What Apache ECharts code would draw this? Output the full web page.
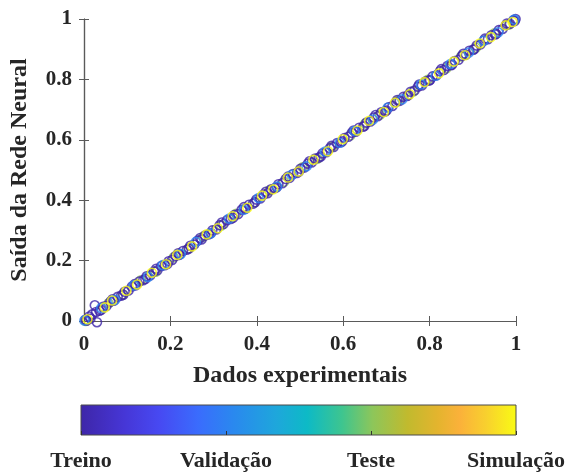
<!DOCTYPE html>
<html>
<head>
    <meta charset="utf-8">
    <title>Saída da Rede Neural</title>
    <script src="https://cdn.jsdelivr.net/npm/echarts@6/dist/echarts.min.js"></script>
</head>
<body style="margin:0">
    <div id="main" style="width: 572px;height:472px;"></div>
    <script type="text/javascript">
        // grupos da barra de cores
        var grupos = ['Treino', 'Validação', 'Teste', 'Simulação'];
        var coresGrupos = ['#3e26a8', '#2c84f0', '#90c454', '#f9fb14'];

        // [dados experimentais, saída da rede]
        var treino = [
            [0.003, 0.004], [0.006, 0.001], [0.025, 0.052], [0.030, -0.004], [0.012, 0.015], [0.019, 0.022],
            [0.028, 0.030], [0.036, 0.034], [0.044, 0.047], [0.052, 0.050], [0.061, 0.064], [0.069, 0.067],
            [0.078, 0.080], [0.086, 0.084], [0.094, 0.097], [0.103, 0.101], [0.111, 0.114], [0.120, 0.118],
            [0.128, 0.131], [0.137, 0.135], [0.145, 0.148], [0.153, 0.151], [0.162, 0.164], [0.170, 0.168],
            [0.179, 0.182], [0.187, 0.185], [0.196, 0.198], [0.204, 0.202], [0.212, 0.215], [0.221, 0.219],
            [0.229, 0.232], [0.238, 0.236], [0.246, 0.249], [0.255, 0.253], [0.263, 0.266], [0.272, 0.270],
            [0.280, 0.283], [0.289, 0.287], [0.297, 0.300], [0.306, 0.303], [0.314, 0.317], [0.323, 0.321],
            [0.331, 0.334], [0.340, 0.338], [0.348, 0.351], [0.357, 0.354], [0.365, 0.368], [0.374, 0.372],
            [0.382, 0.385], [0.391, 0.388], [0.399, 0.402], [0.408, 0.406], [0.416, 0.419], [0.425, 0.423],
            [0.433, 0.436], [0.442, 0.440], [0.450, 0.453], [0.459, 0.456], [0.467, 0.470], [0.476, 0.474],
            [0.484, 0.487], [0.493, 0.490], [0.501, 0.504], [0.510, 0.508], [0.518, 0.521], [0.527, 0.525],
            [0.535, 0.538], [0.544, 0.541], [0.552, 0.555], [0.561, 0.559], [0.569, 0.572], [0.578, 0.576],
            [0.586, 0.589], [0.595, 0.592], [0.603, 0.606], [0.612, 0.610], [0.620, 0.623], [0.629, 0.627],
            [0.637, 0.640], [0.646, 0.643], [0.654, 0.657], [0.663, 0.661], [0.671, 0.674], [0.680, 0.678],
            [0.688, 0.691], [0.697, 0.694], [0.705, 0.708], [0.714, 0.712], [0.722, 0.725], [0.731, 0.729],
            [0.739, 0.742], [0.748, 0.745], [0.756, 0.759], [0.765, 0.763], [0.773, 0.776], [0.782, 0.780],
            [0.790, 0.793], [0.799, 0.796], [0.807, 0.810], [0.816, 0.814], [0.824, 0.827], [0.833, 0.831],
            [0.841, 0.844], [0.850, 0.847], [0.858, 0.861], [0.867, 0.865], [0.875, 0.878], [0.884, 0.882],
            [0.892, 0.895], [0.901, 0.898], [0.909, 0.912], [0.918, 0.916], [0.926, 0.929], [0.935, 0.933],
            [0.943, 0.946], [0.952, 0.949], [0.960, 0.963], [0.969, 0.967], [0.977, 0.980], [0.986, 0.984],
            [0.994, 0.996], [0.999, 1.000],
            [0.015, 0.008], [0.040, 0.037], [0.066, 0.072], [0.091, 0.087], [0.117, 0.122], [0.142, 0.139],
            [0.167, 0.173], [0.193, 0.189], [0.218, 0.224], [0.243, 0.240], [0.269, 0.275], [0.294, 0.291],
            [0.319, 0.326], [0.345, 0.342], [0.370, 0.377], [0.396, 0.393], [0.421, 0.428], [0.446, 0.443],
            [0.472, 0.478], [0.497, 0.494], [0.522, 0.529], [0.548, 0.545], [0.573, 0.580], [0.598, 0.595],
            [0.624, 0.631], [0.649, 0.646], [0.675, 0.682], [0.700, 0.697], [0.725, 0.732], [0.751, 0.748],
            [0.776, 0.783], [0.801, 0.798], [0.827, 0.834], [0.852, 0.849], [0.878, 0.885], [0.903, 0.900],
            [0.928, 0.935], [0.954, 0.951], [0.979, 0.985], [0.997, 0.993]
        ];
        var validacao = [
            [0.001, 0.002], [0.040, 0.043], [0.072, 0.070], [0.115, 0.118], [0.148, 0.146], [0.182, 0.185],
            [0.224, 0.222], [0.259, 0.262], [0.293, 0.290], [0.336, 0.339], [0.370, 0.368], [0.404, 0.407],
            [0.447, 0.445], [0.481, 0.484], [0.515, 0.512], [0.558, 0.561], [0.592, 0.590], [0.626, 0.629],
            [0.669, 0.667], [0.703, 0.706], [0.737, 0.734], [0.780, 0.783], [0.814, 0.812], [0.848, 0.851],
            [0.891, 0.889], [0.925, 0.928], [0.959, 0.956], [0.996, 0.998]
        ];
        var teste = [
            [0.004, 0.000], [0.057, 0.059], [0.090, 0.088], [0.132, 0.135], [0.166, 0.163], [0.208, 0.211],
            [0.242, 0.240], [0.276, 0.279], [0.318, 0.316], [0.352, 0.355], [0.395, 0.393], [0.429, 0.432],
            [0.463, 0.461], [0.506, 0.509], [0.540, 0.537], [0.574, 0.577], [0.617, 0.615], [0.651, 0.654],
            [0.685, 0.683], [0.728, 0.731], [0.762, 0.760], [0.796, 0.799], [0.839, 0.837], [0.873, 0.876],
            [0.907, 0.905], [0.950, 0.953], [0.984, 0.982]
        ];
        var simulacao = [
            [0.008, 0.006], [0.048, 0.045], [0.065, 0.068], [0.098, 0.100], [0.123, 0.121], [0.157, 0.160],
            [0.190, 0.188], [0.216, 0.219], [0.250, 0.247], [0.284, 0.287], [0.310, 0.307], [0.344, 0.347],
            [0.378, 0.375], [0.412, 0.415], [0.438, 0.436], [0.472, 0.475], [0.497, 0.495], [0.531, 0.534],
            [0.565, 0.562], [0.599, 0.602], [0.633, 0.631], [0.660, 0.663], [0.694, 0.692], [0.720, 0.723],
            [0.754, 0.751], [0.788, 0.791], [0.822, 0.820], [0.856, 0.859], [0.882, 0.880], [0.916, 0.919],
            [0.942, 0.940], [0.976, 0.979], [0.992, 0.990]
        ];

        // mapa de cores (parula) da barra
        var parula = [
            [0.00, '#3e26a8'], [0.10, '#4636d6'], [0.18, '#4749f2'], [0.27, '#3a6cfd'],
            [0.35, '#2a88ef'], [0.45, '#1ea7db'], [0.52, '#0dbac6'], [0.60, '#3ec58f'],
            [0.67, '#8dc65a'], [0.75, '#c1ba2e'], [0.82, '#e4b42e'], [0.87, '#fbb13a'],
            [0.93, '#f8d02e'], [1.00, '#f9fb14']
        ];

        var fonte = 'Liberation Serif, Times New Roman, serif';
        var corTexto = '#262626';
        var corEixo = '#5a5a5a';

        function eixo(extra) {
            var base = {
                type: 'value', min: 0, max: 1, interval: 0.2,
                axisLine: { lineStyle: { color: corEixo, width: 1.2 } },
                axisTick: { inside: true, length: 5, lineStyle: { color: corEixo } },
                splitLine: { show: false },
                axisLabel: { fontFamily: fonte, fontWeight: 'bold', fontSize: 21, color: corTexto, margin: 12 }
            };
            return Object.assign(base, extra);
        }

        var chart = echarts.init(document.getElementById('main'));

        // ordem de desenho: teste, treino, validação, simulação
        var ordem = [2, 0, 1, 3];
        var dados = [treino, validacao, teste, simulacao];
        var series = ordem.map(function (k) {
            return {
                name: grupos[k],
                type: 'scatter',
                xAxisIndex: 0,
                yAxisIndex: 0,
                clip: false,
                symbol: 'circle',
                symbolSize: 9,
                itemStyle: { color: 'transparent', borderColor: coresGrupos[k], borderWidth: 1.6 },
                data: dados[k]
            };
        });

        chart.setOption({
            backgroundColor: '#ffffff',
            animation: false,
            grid: [
                { left: 79, right: 56, top: 19, bottom: 151 },
                {
                    left: 81, right: 56, top: 405, height: 30, show: true,
                    borderColor: '#4a4a4a', borderWidth: 1,
                    backgroundColor: {
                        type: 'linear', x: 0, y: 0, x2: 1, y2: 0,
                        colorStops: parula.map(function (p) { return { offset: p[0], color: p[1] }; })
                    }
                }
            ],
            xAxis: [
                eixo({
                    gridIndex: 0, position: 'bottom',
                    name: 'Dados experimentais', nameLocation: 'middle', nameGap: 43,
                    nameTextStyle: { fontFamily: fonte, fontWeight: 'bold', fontSize: 24, color: corTexto },
                    axisLabel: { fontFamily: fonte, fontWeight: 'bold', fontSize: 21, color: corTexto, margin: 13 }
                }),
                eixo({ gridIndex: 0, position: 'top', axisLabel: { show: false } }),
                {
                    type: 'value', gridIndex: 1, min: 0, max: 3, interval: 1,
                    axisLine: { show: false },
                    axisTick: { inside: true, length: 4, lineStyle: { color: '#333' } },
                    splitLine: { show: false },
                    axisLabel: {
                        fontFamily: fonte, fontWeight: 'bold', fontSize: 22, color: corTexto, margin: 15,
                        formatter: function (v) { return grupos[v]; }
                    }
                }
            ],
            yAxis: [
                eixo({
                    gridIndex: 0, position: 'left',
                    name: 'Saída da Rede Neural', nameLocation: 'middle', nameGap: 52,
                    nameTextStyle: { fontFamily: fonte, fontWeight: 'bold', fontSize: 24, color: corTexto }
                }),
                eixo({ gridIndex: 0, position: 'right', axisLabel: { show: false } }),
                { type: 'value', gridIndex: 1, min: 0, max: 1, show: false }
            ],
            series: series
        });
    </script>
</body>
</html>
